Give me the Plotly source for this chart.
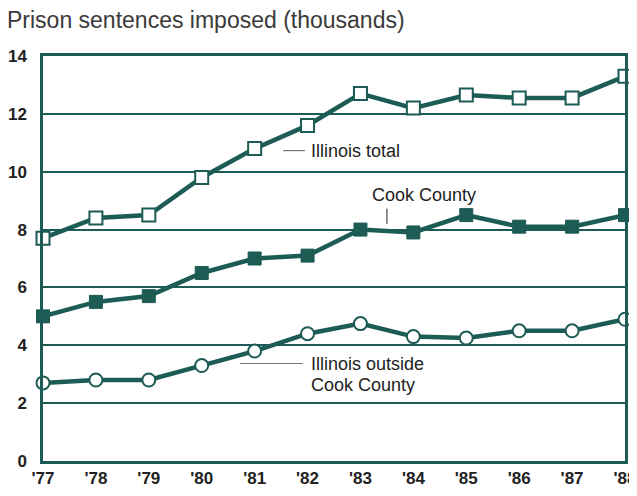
import plotly.graph_objects as go

years = ["'77", "'78", "'79", "'80", "'81", "'82", "'83", "'84", "'85", "'86", "'87", "'88"]
illinois_total = [7.7, 8.4, 8.5, 9.8, 10.8, 11.6, 12.7, 12.2, 12.65, 12.55, 12.55, 13.3]
cook_county = [5.0, 5.5, 5.7, 6.5, 7.0, 7.1, 8.0, 7.9, 8.5, 8.1, 8.1, 8.5]
outside_cook = [2.7, 2.8, 2.8, 3.3, 3.8, 4.4, 4.75, 4.3, 4.25, 4.5, 4.5, 4.9]
y_ticks = [0, 2, 4, 6, 8, 10, 12, 14]

TEAL = "#1d5b55"
FONT = "Liberation Sans, Arial, sans-serif"
xs = list(range(len(years)))

fig = go.Figure()
fig.add_trace(go.Scatter(x=xs, y=outside_cook, mode="lines+markers",
                         line=dict(color=TEAL, width=4.5),
                         marker=dict(symbol="circle", size=13, color="white",
                                     line=dict(color=TEAL, width=2)),
                         cliponaxis=False, showlegend=False))
fig.add_trace(go.Scatter(x=xs, y=cook_county, mode="lines+markers",
                         line=dict(color=TEAL, width=4.5),
                         marker=dict(symbol="square", size=13, color=TEAL,
                                     line=dict(color=TEAL, width=1)),
                         cliponaxis=False, showlegend=False))
fig.add_trace(go.Scatter(x=xs, y=illinois_total, mode="lines+markers",
                         line=dict(color=TEAL, width=4.5),
                         marker=dict(symbol="square", size=13, color="white",
                                     line=dict(color=TEAL, width=2)),
                         cliponaxis=False, showlegend=False))

# leader lines
fig.add_shape(type="line", x0=4.54, x1=4.95, y0=10.73, y1=10.73,
              line=dict(color="#777", width=1.2))
fig.add_shape(type="line", x0=6.5, x1=6.5, y0=8.72, y1=8.2,
              line=dict(color="#444", width=1.2))
fig.add_shape(type="line", x0=3.72, x1=4.91, y0=3.37, y1=3.37,
              line=dict(color="#777", width=1.2))

lab_font = dict(family=FONT, size=18, color="#222")
fig.add_annotation(x=5.03, y=10.73, text="Illinois total", showarrow=False,
                   xanchor="left", yanchor="middle", font=lab_font)
fig.add_annotation(x=7.2, y=9.2, text="Cook County", showarrow=False,
                   xanchor="center", yanchor="middle", font=lab_font)
fig.add_annotation(x=5.03, y=3.37, text="Illinois outside", showarrow=False,
                   xanchor="left", yanchor="middle", font=lab_font)
fig.add_annotation(x=5.03, y=2.62, text="Cook County", showarrow=False,
                   xanchor="left", yanchor="middle", font=lab_font)

fig.add_annotation(xref="paper", yref="paper", x=-0.066, y=1.0, yshift=51,
                   text="Prison sentences imposed (thousands)", showarrow=False,
                   xanchor="left", yanchor="top",
                   font=dict(family=FONT, size=23, color="#3a3a3a"))

fig.update_xaxes(range=[0, 11], tickmode="array", tickvals=xs, ticktext=years,
                 showgrid=False, zeroline=False, showline=True, mirror=True,
                 linecolor=TEAL, linewidth=2.5, ticks="", ticklen=0,
                 automargin=False,
                 tickfont=dict(family=FONT, size=17, color="#222", weight="bold"))
fig.update_yaxes(range=[0, 14], tickmode="array", tickvals=y_ticks,
                 ticktext=[str(v) for v in y_ticks],
                 showgrid=True, gridcolor=TEAL, gridwidth=1.5, zeroline=False,
                 showline=True, mirror=True, linecolor=TEAL, linewidth=2.5,
                 ticks="outside", ticklen=10, tickcolor="rgba(0,0,0,0)",
                 automargin=False,
                 tickfont=dict(family=FONT, size=17, color="#222", weight="bold"))

# page body adds an 8px offset; size the figure to fill the rest of the window
fig.update_layout(width=629, height=488, margin=dict(l=35, r=12, t=48, b=35),
                  plot_bgcolor="white", paper_bgcolor="white")

fig.write_html("out.html")
